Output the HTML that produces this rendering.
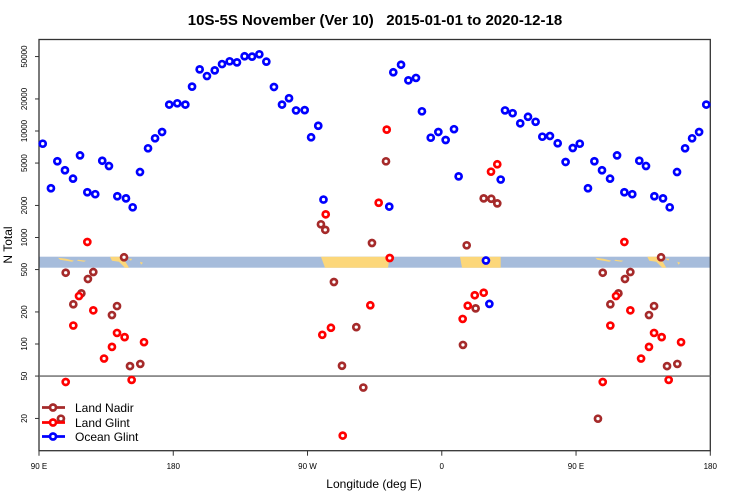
<!DOCTYPE html>
<html><head><meta charset="utf-8"><style>
html,body{margin:0;padding:0;background:#fff;}
svg{display:block;font-family:"Liberation Sans",sans-serif;}
</style></head><body>
<svg id="chart" width="750" height="500" viewBox="0 0 750 500">
<text x="375" y="25" text-anchor="middle" font-size="15" font-weight="bold" xml:space="preserve" style="white-space:pre">10S-5S November (Ver 10)   2015-01-01 to 2020-12-18</text>
<text x="374" y="488" text-anchor="middle" font-size="12">Longitude (deg E)</text>
<text transform="translate(12,245) rotate(-90)" text-anchor="middle" font-size="12">N Total</text>
<g id="band"></g>
<g id="axes"></g>
<g id="marks"></g>
<g id="legend"></g>
</svg>
<script>
const ocean = [[92.5,7600],[98.0,2900],[102.3,5200],[107.4,4280],[112.8,3570],[117.5,5900],[122.4,2660],[127.7,2550],[132.4,5260],[136.9,4690],[142.5,2440],[148.3,2330],[152.8,1920],[157.7,4120],[163.1,6880],[167.8,8540],[172.5,9790],[177.3,17700],[182.7,18200],[188.1,17700],[192.6,26100],[197.7,37900],[202.6,32800],[207.8,37100],[212.7,42500],[217.8,45100],[222.7,44100],[227.8,50300],[232.8,49900],[237.7,52500],[242.4,44800],[247.5,25900],[252.9,17700],[257.6,20300],[262.3,15600],[268.1,15700],[272.4,8730],[277.2,11200],[280.7,2270],[324.8,1950],[327.5,35600],[332.7,41900],[337.6,29900],[342.7,31500],[346.7,15300],[352.6,8650],[357.7,9790],[362.6,8230],[368.2,10400],[371.3,3750],[389.6,608],[391.9,238],[399.5,3500],[402.4,15600],[407.5,14700],[412.6,11800],[417.8,13600],[422.9,12200],[427.4,8840],[432.5,8980],[437.7,7670],[443.0,5120],[447.8,6920]];
const landGlint = [[122.4,908],[116.8,282],[126.4,207],[113.0,149],[142.3,127],[147.4,116],[160.4,104],[138.9,94],[133.6,73],[107.9,44],[152.1,46],[282.2,1650],[317.7,2120],[325.1,642],[323.1,10300],[312.1,231],[285.7,142],[279.9,122],[293.6,13.8],[382.1,287],[388.1,303],[377.4,229],[374.0,172],[393.0,4150],[397.2,4870]];
const landNadir = [[147.0,652],[107.9,467],[126.4,474],[122.8,408],[118.4,299],[113.0,236],[142.3,227],[138.9,187],[151.0,62],[157.9,65],[104.7,19.9],[279.0,1330],[281.9,1180],[313.2,888],[388.1,2330],[393.2,2310],[397.2,2090],[376.7,845],[287.7,382],[302.7,144],[293.1,62.5],[307.4,39],[382.7,216],[374.2,98],[322.6,5190]];
const yTicks = [20,50,100,200,500,1000,2000,5000,10000,20000,50000];
const xTickLons = [90,180,270,360,450,540];
const xTickLabels = ["90 E","180","90 W","0","90 E","180"];

const NS="http://www.w3.org/2000/svg";
const X0=39, X1=710.3, Y0=39.5, Y1=450.7;
function xs(lon){return X0+(lon-90)*(X1-X0)/450;}
function ys(v){return 344-(Math.log10(v)-2)*106.5;}
function mk(tag,attrs,parent){const e=document.createElementNS(NS,tag);for(const k in attrs)e.setAttribute(k,attrs[k]);parent.appendChild(e);return e;}

const band=document.getElementById('band');
const bt=256.7, bb=267.7;
const bandRect=mk('rect',{x:X0,y:bt,width:X1-X0,height:bb-bt,fill:'#a6bcdb'},band);


function land(pts){
  const p=mk('polygon',{points:pts.map(q=>q[0].toFixed(1)+','+q[1]).join(' '),fill:'#fcd77a'},band);
  
  
}
land([[321,bt],[389.7,bt],[388,bb],[325,bb]]);
land([[460,bt],[500.7,bt],[500.7,bb],[462,bb]]);
[0,537.3].forEach(off=>{
  land([[58+off,bt+1],[66+off,bt+2],[74+off,bt+4],[72+off,bt+5],[60+off,bt+3]]);
  land([[78+off,bt+3],[86+off,bt+4],[84+off,bt+5],[77+off,bt+4]]);
  land([[110+off,bt],[122+off,bt],[126+off,bt+6],[129+off,bb],[125+off,bb],[119+off,bt+5],[112+off,bt+4]]);
  land([[128+off,bt+2],[132+off,bt+2],[131+off,bt+4]]);
  land([[140+off,bt+5],[143+off,bt+6],[141+off,bt+8]]);
});

const ax=document.getElementById('axes');
const frame=mk('rect',{x:X0,y:Y0,width:X1-X0,height:Y1-Y0,fill:'none',stroke:'#333',"stroke-width":1.3},ax);


const ref=mk('line',{x1:X0,x2:X1,y1:ys(50),y2:ys(50),stroke:'#666',"stroke-width":1.3},ax);


yTicks.forEach(v=>{
  const y=ys(v);
  const t=mk('line',{x1:X0-4,x2:X0,y1:y,y2:y,stroke:'#333'},ax);
  
  
  const l=mk('text',{transform:`translate(27,${y}) rotate(-90)`,"text-anchor":"middle","font-size":8},ax);
  
  
  l.textContent=v;
});
xTickLons.forEach((lon,i)=>{
  const x=xs(lon);
  const t=mk('line',{x1:x,x2:x,y1:Y1,y2:Y1+5,stroke:'#333'},ax);
  
  
  const l=mk('text',{x:x,y:469,"text-anchor":"middle","font-size":8},ax);
  
  
  l.textContent=xTickLabels[i];
});

const marks=document.getElementById('marks');
function draw(data,color,name){
  data.forEach(d=>{
    const lons=[d[0]]; if(d[0]<=180) lons.push(d[0]+360);
    lons.forEach(lon=>{
      const c=mk('circle',{cx:xs(lon),cy:ys(d[1]),r:3,fill:'#fff',stroke:color,"stroke-width":2.7},marks);
      
      
    });
  });
}
draw(landNadir,'#a52a2a','land-nadir-point');
draw(landGlint,'#ff0000','land-glint-point');
draw(ocean,'#0000ff','ocean-glint-point');

const lg=document.getElementById('legend');
[['Land Nadir','#a52a2a',407.5],['Land Glint','#ff0000',422.5],['Ocean Glint','#0000ff',436.5]].forEach(e=>{
  const g=mk('g',{},lg);
  
  
  mk('line',{x1:42,x2:65,y1:e[2],y2:e[2],stroke:e[1],"stroke-width":2.7},g);
  mk('circle',{cx:53,cy:e[2],r:3,fill:'#fff',stroke:e[1],"stroke-width":2.7},g);
  const t=mk('text',{x:75,y:e[2]+4.5,"font-size":12},g);
  t.textContent=e[0];
});
</script>
</body></html>
